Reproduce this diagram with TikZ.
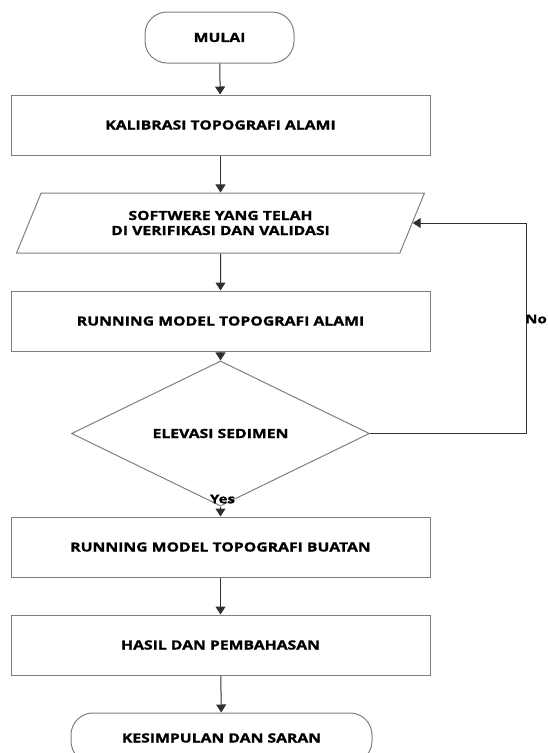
\documentclass[tikz,border=0pt]{standalone}
\usepackage{fontspec}
\setmainfont{Open Sans}[FakeStretch=1.25, BoldFeatures={FakeBold=1.2}]
\usetikzlibrary{arrows.meta,shapes.geometric}
\definecolor{shapeline}{HTML}{7F7F7F}
\definecolor{conn}{HTML}{303030}
\begin{document}
\begin{tikzpicture}[x=1pt,y=1pt,
  every node/.style={font=\fontsize{12.6}{15}\selectfont\bfseries, text=black, align=center},
  procbox/.style={draw=shapeline, line width=1pt, rectangle, minimum width=419pt, minimum height=60pt, inner sep=0pt},
  termbox/.style={draw=shapeline, line width=1pt, rectangle, rounded corners=22pt, inner sep=0pt},
  iobox/.style={draw=shapeline, line width=1pt, trapezium, trapezium left angle=58.3, trapezium right angle=121.7, trapezium stretches=true, minimum width=409pt, minimum height=60pt, inner sep=0pt},
  decbox/.style={draw=shapeline, line width=1pt, diamond, minimum width=298pt, minimum height=89pt, inner sep=0pt},
  arr/.style={draw=conn, line width=1pt, -{Triangle[width=10pt,length=8pt]}},
  lbl/.style={font=\fontsize{12}{14}\selectfont\bfseries, inner sep=0pt}]
\useasboundingbox (0,0) rectangle (548,-753);
\clip (0,0) rectangle (548,-753);
\node[termbox, minimum width=149pt, minimum height=51pt] (start) at (219.5,-37.5) {MULAI};
\node[procbox] (kal) at (220.5,-125) {KALIBRASI TOPOGRAFI ALAMI};
\node[iobox] (soft) at (220.5,-223) {SOFTWERE YANG TELAH\\DI VERIFIKASI DAN VALIDASI};
\node[procbox] (run1) at (220.5,-321) {RUNNING MODEL TOPOGRAFI ALAMI};
\node[decbox] (elev) at (220.5,-433.5) {ELEVASI SEDIMEN};
\node[procbox] (run2) at (220.5,-547) {RUNNING MODEL TOPOGRAFI BUATAN};
\node[procbox] (hasil) at (220.5,-645) {HASIL DAN PEMBAHASAN};
\node[termbox, minimum width=301pt, minimum height=50pt] (end) at (221.5,-738) {KESIMPULAN DAN SARAN};
\coordinate (loop) at (526,-433.5);
\draw[arr] (start) -- (kal);
\draw[arr] (kal) -- (soft);
\draw[arr] (soft) -- (run1);
\draw[arr] (run1) -- (elev);
\draw[arr] (elev) -- (run2);
\draw[arr] (run2) -- (hasil);
\draw[arr] (hasil) -- (end);
\draw[arr] (elev.east) -- (loop) |- (soft.east);
\node[lbl, anchor=east] (no) at (547,-319) {No};
\node[lbl] (yes) at (222.5,-499) {Yes};
\end{tikzpicture}
\end{document}
